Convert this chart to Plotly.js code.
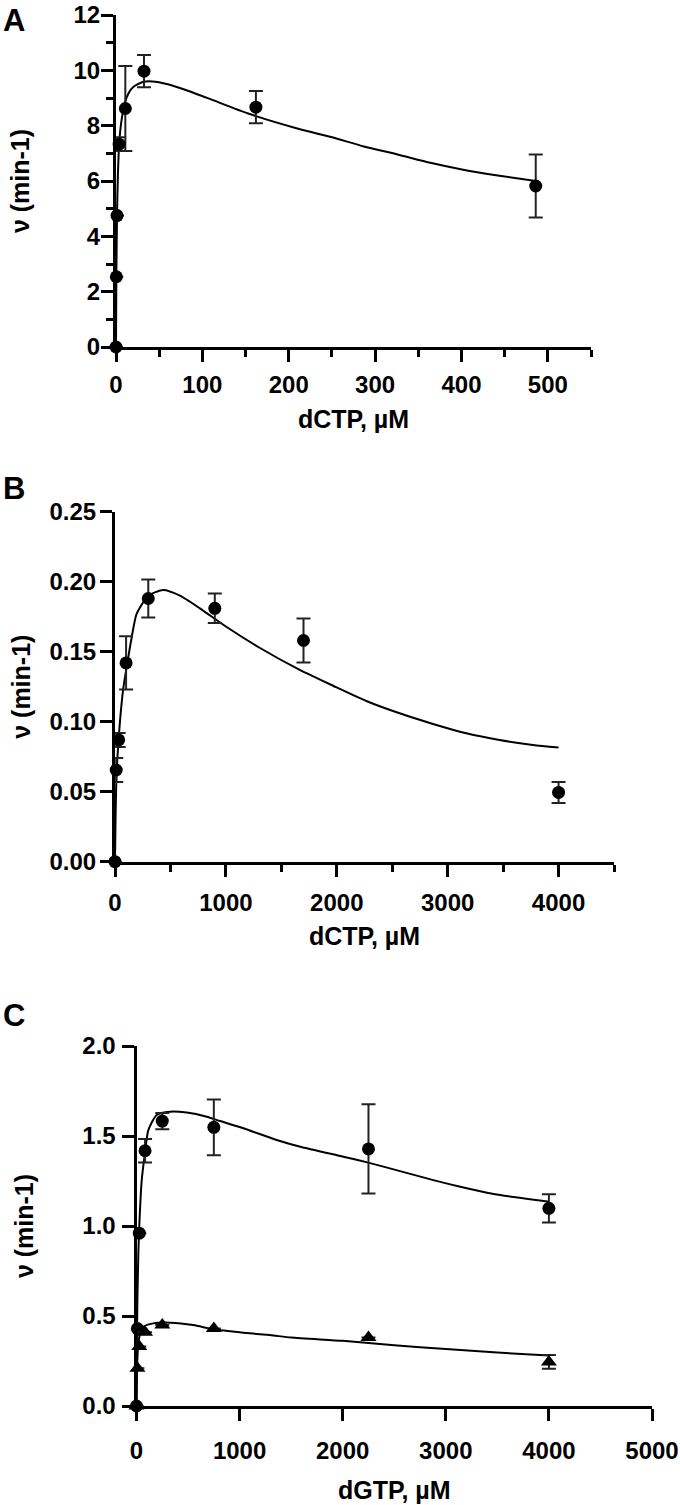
<!DOCTYPE html>
<html><head><meta charset="utf-8">
<script src="https://cdn.plot.ly/plotly-3.0.1.min.js"></script>
<style>html,body{margin:0;padding:0;background:#fff}#chart{width:680px;height:1505px}</style>
</head><body><div id="chart"></div><script>
// Panel A: dCTP
const aConc = [0, 0.4, 1.2, 3.6, 10.8, 32.4, 162, 486];
const aRate = [0, 2.54, 4.75, 7.33, 8.62, 9.97, 8.67, 5.82];
const aSD   = [0, 0, 0, 0.25, 1.54, 0.58, 0.58, 1.14];
const aFitX = [0, 0.4, 1.2, 2, 3.6, 6, 10, 15, 20, 31, 42, 60, 80, 110, 153, 211, 249, 287, 326, 364, 402, 440, 486];
const aFitY = [0, 2.6, 4.8, 6.0, 7.3, 8.1, 8.8, 9.2, 9.4, 9.58, 9.6, 9.5, 9.3, 8.95, 8.44, 7.89, 7.59, 7.25, 6.96, 6.66, 6.41, 6.21, 6.0];

// Panel B: dCTP
const bConc = [0, 11, 33, 100, 300, 900, 1700, 4000];
const bRate = [0, 0.0655, 0.087, 0.142, 0.188, 0.181, 0.158, 0.0495];
const bSD   = [0, 0.0085, 0.005, 0.019, 0.0135, 0.0105, 0.0157, 0.0075];
const bFitX = [0, 5, 11, 20, 33, 50, 75, 105, 150, 195, 300, 435, 585, 765, 1000, 1300, 1666, 1966, 2266, 2567, 2868, 3168, 3468, 3769, 4000];
const bFitY = [0, 0.03, 0.055, 0.072, 0.088, 0.105, 0.124, 0.139, 0.160, 0.177, 0.190, 0.194, 0.190, 0.181, 0.168, 0.153, 0.137, 0.1257, 0.1148, 0.106, 0.0984, 0.0917, 0.0869, 0.0834, 0.0815];

// Panel C: dGTP (circles and triangles)
const cConc = [0, 9, 27, 83, 250, 750, 2250, 4000];
const cRate = [0, 0.43, 0.96, 1.418, 1.583, 1.548, 1.428, 1.098];
const cSD   = [0, 0, 0, 0.065, 0.045, 0.155, 0.248, 0.079];
const cFitX = [0, 3, 9, 18, 27, 50, 76, 115, 196, 325, 487, 681, 810, 1036, 1360, 1590, 2006, 2248, 2556, 2879, 3203, 3526, 4000];
const cFitY = [0, 0.3, 0.6, 0.85, 1.0, 1.25, 1.38, 1.533, 1.617, 1.635, 1.63, 1.607, 1.583, 1.543, 1.478, 1.44, 1.385, 1.352, 1.305, 1.255, 1.21, 1.172, 1.135];
const tConc = [0, 9, 27, 83, 250, 750, 2250, 4000];
const tRate = [0, 0.21, 0.33, 0.41, 0.45, 0.43, 0.38, 0.245];
const tSD   = [0, 0, 0, 0, 0, 0, 0, 0.038];
const tFitX = [0, 5, 15, 30, 66, 163, 325, 551, 745, 1036, 1295, 1500, 2000, 2500, 3000, 3500, 4000];
const tFitY = [0, 0.2, 0.33, 0.39, 0.44, 0.459, 0.463, 0.45, 0.426, 0.407, 0.394, 0.38, 0.362, 0.338, 0.316, 0.297, 0.28];

const FONT = 'Liberation Sans, Arial, Helvetica, sans-serif';
const tickFont = {family: FONT, size: 24, color: '#000', weight: 'bold'};
const titleFont = {family: FONT, size: 25, color: '#000', weight: 'bold'};

function pts(x, y, sd, sym, xa, ya, size) {
  return {x: x, y: y, type: 'scatter', mode: 'markers', xaxis: xa, yaxis: ya, cliponaxis: false,
    marker: {symbol: sym, size: size, color: '#000'},
    error_y: {type: 'data', array: sd, visible: true, color: '#222', thickness: 2, width: 7}};
}
function fit(x, y, xa, ya) {
  return {x: x, y: y, type: 'scatter', mode: 'lines', xaxis: xa, yaxis: ya, cliponaxis: false,
    line: {color: '#000', width: 2, shape: 'spline', smoothing: 0.6}};
}
function ax(domain, range, dtick, minor, title, standoff, labelGap, anchor) {
  const a = {domain: domain, range: range, dtick: dtick, tick0: 0, anchor: anchor, showgrid: false, zeroline: false,
    showline: true, linewidth: 3, linecolor: '#000', ticks: 'outside', ticklen: 12, tickwidth: 3, tickcolor: '#000',
    tickfont: tickFont, ticklabelstandoff: labelGap, fixedrange: true, automargin: false,
    title: {text: title, font: titleFont, standoff: standoff}};
  if (minor) a.minor = {dtick: minor, tick0: 0, ticks: 'outside', ticklen: 7, tickwidth: 3, tickcolor: '#000', showgrid: false};
  return a;
}

const data = [
  fit(aFitX, aFitY, 'x', 'y'), pts(aConc, aRate, aSD, 'circle', 'x', 'y', 13),
  fit(bFitX, bFitY, 'x2', 'y2'), pts(bConc, bRate, bSD, 'circle', 'x2', 'y2', 13),
  fit(cFitX, cFitY, 'x3', 'y3'), pts(cConc, cRate, cSD, 'circle', 'x3', 'y3', 13),
  fit(tFitX, tFitY, 'x3', 'y3'), pts(tConc, tRate, tSD, 'triangle-up', 'x3', 'y3', 14)
];

const H = 1505, W = 680;
const letterFont = {family: FONT, size: 31, color: '#000', weight: 'bold'};
const layout = {
  width: W, height: H, margin: {l: 0, r: 0, t: 0, b: 0}, showlegend: false,
  paper_bgcolor: '#fff', plot_bgcolor: '#fff',
  xaxis:  ax([116/W, 591/W], [0, 550], 100, 50, 'dCTP, µM', 14, 2, 'y'),
  yaxis:  ax([1-347/H, 1-15/H], [0, 12], 2, 1, 'ν (min-1)', 37, -4, 'x'),
  xaxis2: ax([115/W, 614/W], [0, 4500], 1000, 500, 'dCTP, µM', 13, 5, 'y2'),
  yaxis2: ax([1-861.7/H, 1-511.7/H], [0, 0.25], 0.05, null, 'ν (min-1)', 12, -1, 'x2'),
  xaxis3: ax([136.5/W, 652/W], [0, 5000], 1000, null, 'dGTP, µM', 19, 9, 'y3'),
  yaxis3: ax([1-1406/H, 1-1046/H], [0, 2], 0.5, null, 'ν (min-1)', 42, 1, 'x3'),
  annotations: [
    {text: 'A', x: 1/W, y: 1-1/H, xref: 'paper', yref: 'paper', xanchor: 'left', yanchor: 'top', showarrow: false, font: letterFont},
    {text: 'B', x: 1/W, y: 1-469/H, xref: 'paper', yref: 'paper', xanchor: 'left', yanchor: 'top', showarrow: false, font: letterFont},
    {text: 'C', x: 1/W, y: 1-996/H, xref: 'paper', yref: 'paper', xanchor: 'left', yanchor: 'top', showarrow: false, font: letterFont}
  ]
};
layout.yaxis.tickformat = 'd';
layout.yaxis2.tickformat = '.2f';
layout.yaxis3.tickformat = '.1f';

Plotly.newPlot('chart', data, layout, {staticPlot: true, displayModeBar: false});
</script></body></html>
